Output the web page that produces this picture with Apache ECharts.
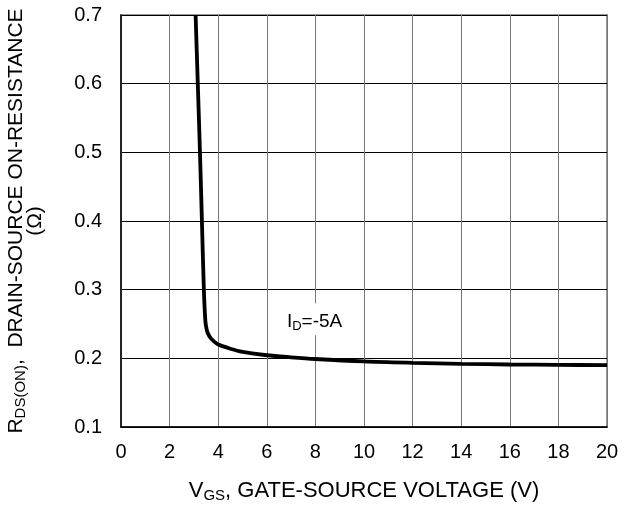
<!DOCTYPE html>
<html><head><meta charset="utf-8">
<script src="https://cdn.jsdelivr.net/npm/echarts@6/dist/echarts.min.js"></script>
<style>html,body{margin:0;padding:0;background:#fff}#c{width:633px;height:505px}</style>
</head><body><div id="c"></div>
<script>
const vgs = [3.07, 3.16, 3.25, 3.33, 3.41, 3.47, 3.52, 3.58, 3.7, 3.85, 4.0, 4.5, 5.0, 6.0, 7.0, 8.0, 10.0, 12.0, 14.0, 16.0, 18.0, 20.0];
const rds = [0.70, 0.60, 0.50, 0.40, 0.30, 0.255, 0.243, 0.236, 0.229, 0.224, 0.220, 0.214, 0.2095, 0.2045, 0.2015, 0.199, 0.1955, 0.1935, 0.192, 0.191, 0.1905, 0.190];
const xTicks = [0,2,4,6,8,10,12,14,16,18,20];
const yTicks = [0.1,0.2,0.3,0.4,0.5,0.6,0.7];
const annotation = {x: 7.8, y: 0.257};

const F = '"Liberation Sans", Arial, sans-serif';
const chart = echarts.init(document.getElementById('c'));
chart.setOption({
  animation: false,
  grid: {left: 121, top: 15, right: 26, bottom: 78, show: true, borderColor: '#999', borderWidth: 2,
         outerBoundsMode: 'none', containLabel: false},
  xAxis: {
    type: 'value', min: 0, max: 20, interval: 2,
    axisLine: {lineStyle: {color: '#000', width: 1.5}},
    axisTick: {show: false},
    axisLabel: {color: '#000', fontSize: 20, fontFamily: F, margin: 15},
    splitLine: {lineStyle: {color: '#777', width: 1}},
    name: '{a|V}{s|GS}{a|, GATE-SOURCE VOLTAGE (V)}',
    nameLocation: 'middle', nameGap: 52,
    nameTextStyle: {rich: {
      a: {fontSize: 22, fontFamily: F, color: '#000'},
      s: {fontSize: 15, fontFamily: F, color: '#000', padding: [9,0,0,0]}
    }}
  },
  yAxis: {
    type: 'value', min: 0.1, max: 0.7, interval: 0.1,
    axisLine: {lineStyle: {color: '#000', width: 1.5}},
    axisTick: {show: false},
    axisLabel: {color: '#000', fontSize: 20, fontFamily: F, margin: 19, formatter: v => v.toFixed(1)},
    splitLine: {lineStyle: {color: '#000', width: 1}},
    name: '{a|R}{s|DS(ON)}{a|,  DRAIN-SOURCE ON-RESISTANCE}\n{a|(Ω)}',
    nameLocation: 'middle', nameGap: 76, nameRotate: 90,
    nameTextStyle: {align: 'center', rich: {
      a: {fontSize: 21, fontFamily: F, color: '#000', lineHeight: 19, align: 'center'},
      s: {fontSize: 15, fontFamily: F, color: '#000', padding: [9,0,0,0], lineHeight: 19}
    }}
  },
  series: [{
    type: 'line', data: vgs.map((v,i)=>[v, rds[i]]), smooth: 0.3,
    symbol: 'none', lineStyle: {color: '#000', width: 3.8},
    markPoint: {
      symbol: 'rect', symbolSize: [80, 32],
      itemStyle: {color: '#fff'},
      label: {show: true, offset: [4, 3], formatter: '{a|I}{s|D}{a|=-5A}', rich: {
        a: {fontSize: 19, fontFamily: F, color: '#000'},
        s: {fontSize: 13, fontFamily: F, color: '#000', padding: [8,0,0,0]}
      }},
      data: [{coord: [annotation.x, annotation.y]}]
    }
  }]
});
</script></body></html>
